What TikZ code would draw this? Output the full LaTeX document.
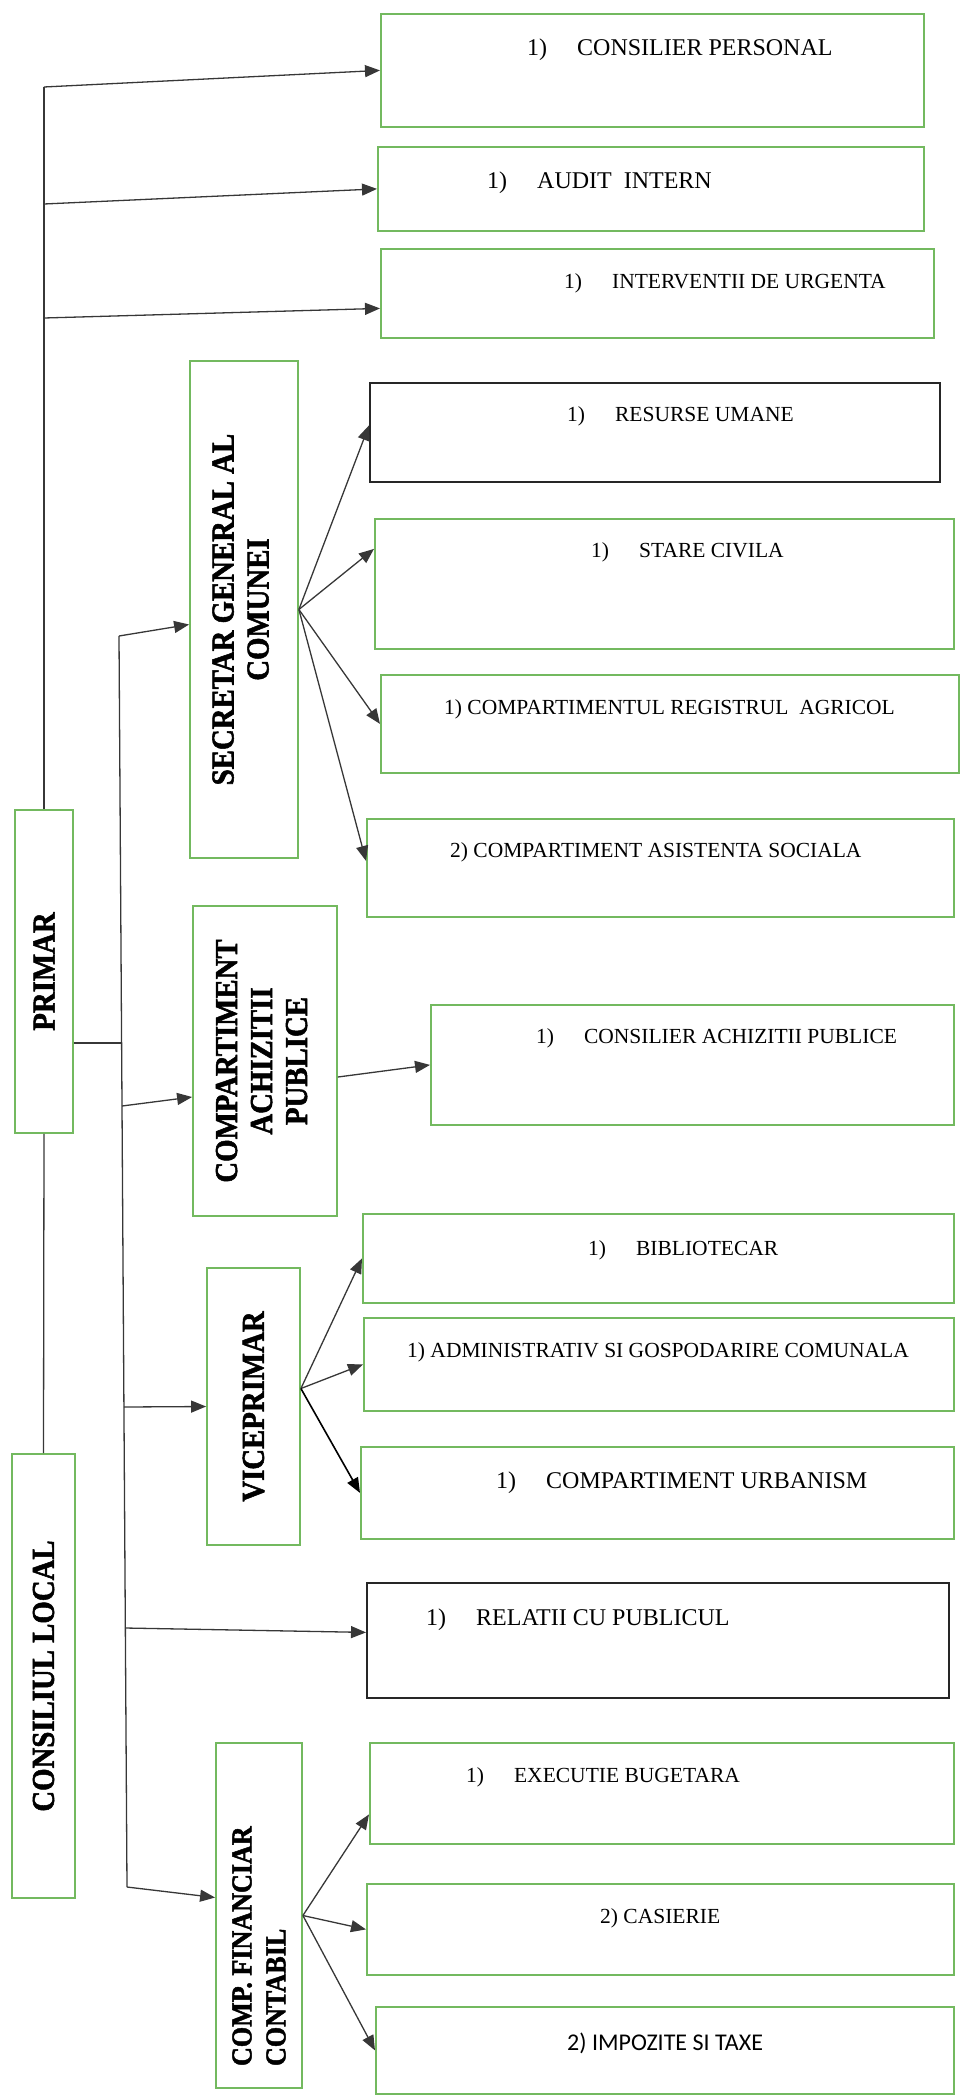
\documentclass[tikz,border=0pt]{standalone}
\usepackage{fontspec}
\setmainfont{Liberation Serif}
\newfontfamily\rotfont[FakeStretch=0.9,FakeBold=1.6]{Liberation Serif Bold}
\newfontfamily\calfont{Carlito}
\usetikzlibrary{arrows.meta,calc}

\definecolor{boxgreen}{RGB}{115,185,95}
\definecolor{linegray}{RGB}{55,55,55}
\newcommand\numgap{\hspace{30pt}}

\tikzset{
  hbox/.style={draw=boxgreen, line width=1.8pt, anchor=north west, inner sep=0pt},
  kbox/.style={hbox, draw=black!85},
  vbox/.style={draw=boxgreen, line width=1.8pt, inner sep=0pt, font=\rotfont\bfseries\fontsize{32}{35}\selectfont},
  htext/.style={anchor=west, inner sep=0pt, font=\fontsize{21.5}{26}\selectfont},
  bigtext/.style={htext, font=\fontsize{24}{28}\selectfont},
  link/.style={draw=linegray, line width=1.3pt},
  arr/.style={link, -{Triangle[length=15pt,width=12pt]}},
}

\begin{document}
\begin{tikzpicture}[x=1pt,y=-1pt]
\useasboundingbox (0,0) rectangle (961,2100);

% left column
\node[vbox, minimum width=58, minimum height=323] (pr) at (44,971.5) {\rotatebox{90}{PRIMAR}};
\node[vbox, minimum width=63, minimum height=444] (cl) at (43.5,1676) {\rotatebox{90}{CONSILIUL LOCAL}};

% middle column
\node[vbox, minimum width=108, minimum height=497] (sg) at (244,609.5) {\rotatebox{90}{\begin{tabular}{@{}c@{}}SECRETAR GENERAL AL\\COMUNEI\end{tabular}}};
\node[vbox, minimum width=144, minimum height=310] (ca) at (265,1061) {\rotatebox{90}{\begin{tabular}{@{}c@{}}COMPARTIMENT\\ACHIZITII\\PUBLICE\end{tabular}}};
\node[vbox, minimum width=93, minimum height=277] (vp) at (253.5,1406.5) {\rotatebox{90}{VICEPRIMAR}};
\node[vbox, minimum width=86, minimum height=345, font=\rotfont\fontsize{29}{34}\selectfont] (cf) at (259,1915.5) {\rotatebox{90}{\parbox{301pt}{\raggedright COMP. FINANCIAR\\CONTABIL}}};

% right column boxes
\node[hbox, minimum width=543, minimum height=113] (cp) at (380,13) {};
\node[hbox, minimum width=546, minimum height=84] (ai) at (377,146) {};
\node[hbox, minimum width=553, minimum height=89] (iu) at (380,248) {};
\node[kbox, minimum width=570, minimum height=99] (ru) at (369,382) {};
\node[hbox, minimum width=579, minimum height=130] (sc) at (374,518) {};
\node[hbox, minimum width=578, minimum height=98] (ra) at (380,674) {};
\node[hbox, minimum width=587, minimum height=98] (as) at (366,818) {};
\node[hbox, minimum width=523, minimum height=120] (cap) at (430,1004) {};
\node[hbox, minimum width=591, minimum height=89] (bib) at (362,1213) {};
\node[hbox, minimum width=590, minimum height=93] (adm) at (363,1317) {};
\node[hbox, minimum width=593, minimum height=92] (urb) at (360,1446) {};
\node[kbox, minimum width=582, minimum height=115] (rel) at (366,1582) {};
\node[hbox, minimum width=584, minimum height=101] (exe) at (369,1742) {};
\node[hbox, minimum width=587, minimum height=91] (cas) at (366,1883) {};
\node[hbox, minimum width=578, minimum height=87] (imp) at (375,2006) {};

% box labels
\node[bigtext] (cp-t) at (527,50) {1)\numgap CONSILIER PERSONAL};
\node[bigtext] (ai-t) at (487,183) {1)\numgap AUDIT\ \ INTERN};
\node[htext] (iu-t) at (564,283) {1)\numgap INTERVENTII DE URGENTA};
\node[htext] (ru-t) at (567,416) {1)\numgap RESURSE UMANE};
\node[htext] (sc-t) at (591,552) {1)\numgap STARE CIVILA};
\node[htext] (ra-t) at (444,709) {1) COMPARTIMENTUL REGISTRUL\ \ AGRICOL};
\node[htext] (as-t) at (450,852) {2) COMPARTIMENT ASISTENTA SOCIALA};
\node[htext] (cap-t) at (536,1038) {1)\numgap CONSILIER ACHIZITII PUBLICE};
\node[htext] (bib-t) at (588,1250) {1)\numgap BIBLIOTECAR};
\node[htext] (adm-t) at (407,1352) {1) ADMINISTRATIV SI GOSPODARIRE COMUNALA};
\node[bigtext] (urb-t) at (496,1483) {1)\numgap COMPARTIMENT URBANISM};
\node[bigtext] (rel-t) at (426,1620) {1)\numgap RELATII CU PUBLICUL};
\node[htext] (exe-t) at (466,1777) {1)\numgap EXECUTIE BUGETARA};
\node[htext] (cas-t) at (600,1918) {2) CASIERIE};
\node[htext, font=\calfont\fontsize{24}{28}\selectfont] (imp-t) at (567,2043) {2) IMPOZITE SI TAXE};

% junction points
\coordinate (j1) at (44,87);
\coordinate (j2) at (44,204);
\coordinate (j3) at (44,318);
\coordinate (k0) at (119,636);
\coordinate (k1) at (121.6,1043);
\coordinate (k2) at (122,1106);
\coordinate (k3) at (123.9,1407);
\coordinate (k4) at (125.3,1628);
\coordinate (k5) at (127,1887);
\coordinate (vo) at ([yshift=18pt]vp.east);

% primar links
\draw[link] (pr.north) -- (j1);
\draw[link] (pr.south) -- (cl.north);
\draw[arr] (j1) -- (cp.west);
\draw[arr] (j2) -- (ai.west);
\draw[arr] (j3) -- ([yshift=-15pt]iu.west);
\draw[link] (pr.east |- k1) -- (k1);
\draw[link] (k0) -- (k5);

% trunk arrows
\draw[arr] (k0) -- ([yshift=-15pt]sg.west);
\draw[arr] (k2) -- ([yshift=-36pt]ca.west);
\draw[arr] (k3) -- (vp.west);
\draw[arr] (k4) -- ([yshift=8pt]rel.west);
\draw[arr] (k5) -- ([yshift=18pt]cf.west);

% secretar
\draw[arr] (sg.east) -- ([yshift=7pt]ru.west);
\draw[arr] (sg.east) -- ([yshift=35pt]sc.west);
\draw[arr] (sg.east) -- (ra.west);
\draw[arr] (sg.east) -- ([yshift=7pt]as.west);

% achizitii
\draw[arr] ([yshift=-16pt]ca.east) -- (cap.west);

% viceprimar
\draw[arr] (vo) -- (bib.west);
\draw[arr] (vo) -- (adm.west);
\draw[arr, draw=black, line width=1.6pt] (vo) -- (urb.west);

% financiar
\draw[arr] (cf.east) -- ([yshift=-21pt]exe.west);
\draw[arr] (cf.east) -- (cas.west);
\draw[arr] (cf.east) -- (imp.west);
\end{tikzpicture}
\end{document}
